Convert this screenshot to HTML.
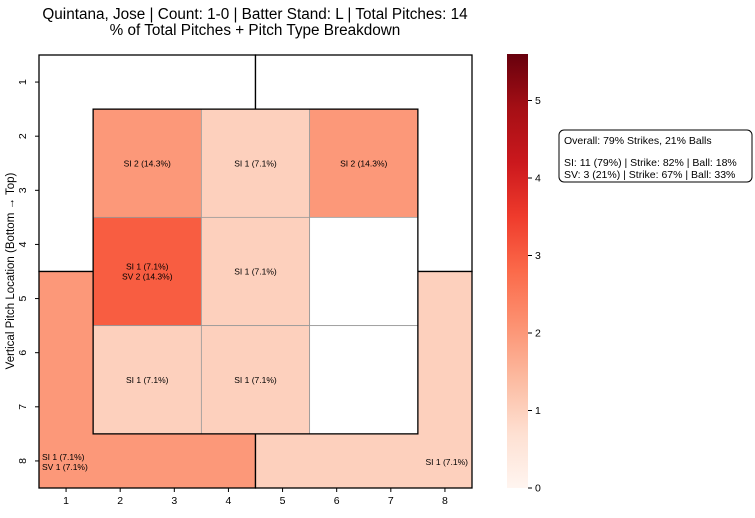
<!DOCTYPE html>
<html><head><meta charset="utf-8"><style>
body{margin:0;background:#fff;}
svg text{font-family:"Liberation Sans",sans-serif;}
</style></head><body>
<svg id="chart" width="755" height="513" viewBox="0 0 755 513" xmlns="http://www.w3.org/2000/svg">
<defs><linearGradient id="cbgrad" x1="0" y1="1" x2="0" y2="0">
<stop offset="0" stop-color="#fff5f0"/><stop offset="0.125" stop-color="#fee0d2"/><stop offset="0.25" stop-color="#fcbba1"/><stop offset="0.375" stop-color="#fc9272"/><stop offset="0.5" stop-color="#fb6a4a"/><stop offset="0.625" stop-color="#ef3b2c"/><stop offset="0.75" stop-color="#cb181d"/><stop offset="0.875" stop-color="#a50f15"/><stop offset="1" stop-color="#67000d"/>
</linearGradient></defs>
<text x="255" y="19" font-size="15.3" text-anchor="middle">Quintana, Jose | Count: 1-0 | Batter Stand: L | Total Pitches: 14</text>
<text x="255" y="35" font-size="15.3" text-anchor="middle">% of Total Pitches + Pitch Type Breakdown</text>
<text transform="translate(14,271) rotate(-90)" font-size="11.5" text-anchor="middle">Vertical Pitch Location (Bottom → Top)</text>
<g id="plot"></g>
<g id="cbar"></g>
<g>
<rect x="559" y="130" width="193" height="52" rx="5" fill="#fff" stroke="#000" stroke-width="1"/>
<text x="564" y="144" font-size="10.5">Overall: 79% Strikes, 21% Balls</text>
<text x="564" y="166" font-size="10.5">SI: 11 (79%) | Strike: 82% | Ball: 18%</text>
<text x="564" y="178" font-size="10.5">SV: 3 (21%) | Strike: 67% | Ball: 33%</text>
</g>
</svg>
<script>
const xTicks=["1","2","3","4","5","6","7","8"];
const yTicks=["1","2","3","4","5","6","7","8"];
const outerValues=[0,0,2,1]; // TL, TR, BL, BR
const outerLabels=[[],[],["SI 1 (7.1%)","SV 1 (7.1%)"],["SI 1 (7.1%)"]];
const innerValues=[[2,1,2],[3,1,0],[1,1,0]];
const innerLabels=[[["SI 2 (14.3%)"],["SI 1 (7.1%)"],["SI 2 (14.3%)"]],[["SI 1 (7.1%)","SV 2 (14.3%)"],["SI 1 (7.1%)"],[]],[["SI 1 (7.1%)"],["SI 1 (7.1%)"],[]]];
const cbTicks=[0,1,2,3,4,5];
const vmax=5.6;
const X0=39,Y0=55,S=433/8;
const col=c=>X0+(c-0.5)*S, row=r=>Y0+(r-0.5)*S;
const stops=[[0,[255,245,240]],[.125,[254,224,210]],[.25,[252,187,161]],[.375,[252,146,114]],[.5,[251,106,74]],[.625,[239,59,44]],[.75,[203,24,29]],[.875,[165,15,21]],[1,[103,0,13]]];
function cmap(v){if(v===0)return "#ffffff";let t=Math.min(1,v/vmax);for(let i=1;i<stops.length;i++){if(t<=stops[i][0]){const a=stops[i-1],b=stops[i],f=(t-a[0])/(b[0]-a[0]);return "rgb("+a[1].map((x,k)=>Math.round(x+(b[1][k]-x)*f)).join(",")+")";}}return "#67000d";}
const NS="http://www.w3.org/2000/svg";
function mk(tag,attrs,parent){const e=document.createElementNS(NS,tag);for(const k in attrs)e.setAttribute(k,attrs[k]);parent.appendChild(e);return e;}
const plot=document.getElementById('plot');
const quads=[[0.5,0.5],[4.5,0.5],[0.5,4.5],[4.5,4.5]];
quads.forEach((q,i)=>{
 const r=mk('rect',{x:X0+(q[0]-0.5)*S,y:Y0+(q[1]-0.5)*S,width:4*S,height:4*S,fill:cmap(outerValues[i]),stroke:'#000','stroke-width':1.3},plot);
 
 
});
outerLabels.forEach((ls,i)=>{
 ls.forEach((s,k)=>{
  const left=i===2;
  const t=mk('text',{x:left?42:468,y:left?460+k*10:465,'font-size':8.5,'text-anchor':left?'start':'end'},plot);
  
  
  t.textContent=s;
 });
});
innerValues.forEach((rowv,ri)=>rowv.forEach((v,ci)=>{
 const gx=1.5+ci*2, gy=1.5+ri*2;
 const x=X0+(gx-0.5)*S, y=Y0+(gy-0.5)*S;
 const r=mk('rect',{x:x,y:y,width:2*S,height:2*S,fill:cmap(v),stroke:'#999','stroke-width':0.8},plot);
 
 
 const ls=innerLabels[ri][ci];
 ls.forEach((s,k)=>{
  const t=mk('text',{x:x+S,y:y+S+3+(k-(ls.length-1)/2)*10,'font-size':8.5,'text-anchor':'middle'},plot);
  
  
  t.textContent=s;
 });
}));
const ib=mk('rect',{x:X0+S,y:Y0+S,width:6*S,height:6*S,fill:'none',stroke:'#000','stroke-width':1.3},plot);


xTicks.forEach((s,i)=>{
 mk('line',{x1:col(i+1),x2:col(i+1),y1:488,y2:492,stroke:'#000'},plot);
 const t=mk('text',{x:col(i+1),y:504,'font-size':10.5,'text-anchor':'middle'},plot);
 
 
 t.textContent=s;
});
yTicks.forEach((s,i)=>{
 mk('line',{x1:35,x2:39,y1:row(i+1),y2:row(i+1),stroke:'#000'},plot);
 const t=mk('text',{transform:`translate(26,${row(i+1)}) rotate(-90)`,'font-size':10.5,'text-anchor':'middle'},plot);
 
 
 t.textContent=s;
});
const cb=document.getElementById('cbar');
const CB0=488,CBH=434;
const cbr=mk('rect',{x:507,y:CB0-CBH,width:21,height:CBH,fill:'url(#cbgrad)'},cb);


cbTicks.forEach(v=>{
 const y=CB0-v/vmax*CBH;
 mk('line',{x1:528,x2:532,y1:y,y2:y,stroke:'#000'},cb);
 const t=mk('text',{x:535,y:y+3.5,'font-size':10.5},cb);
 
 
 t.textContent=v;
});
</script>
</body></html>
